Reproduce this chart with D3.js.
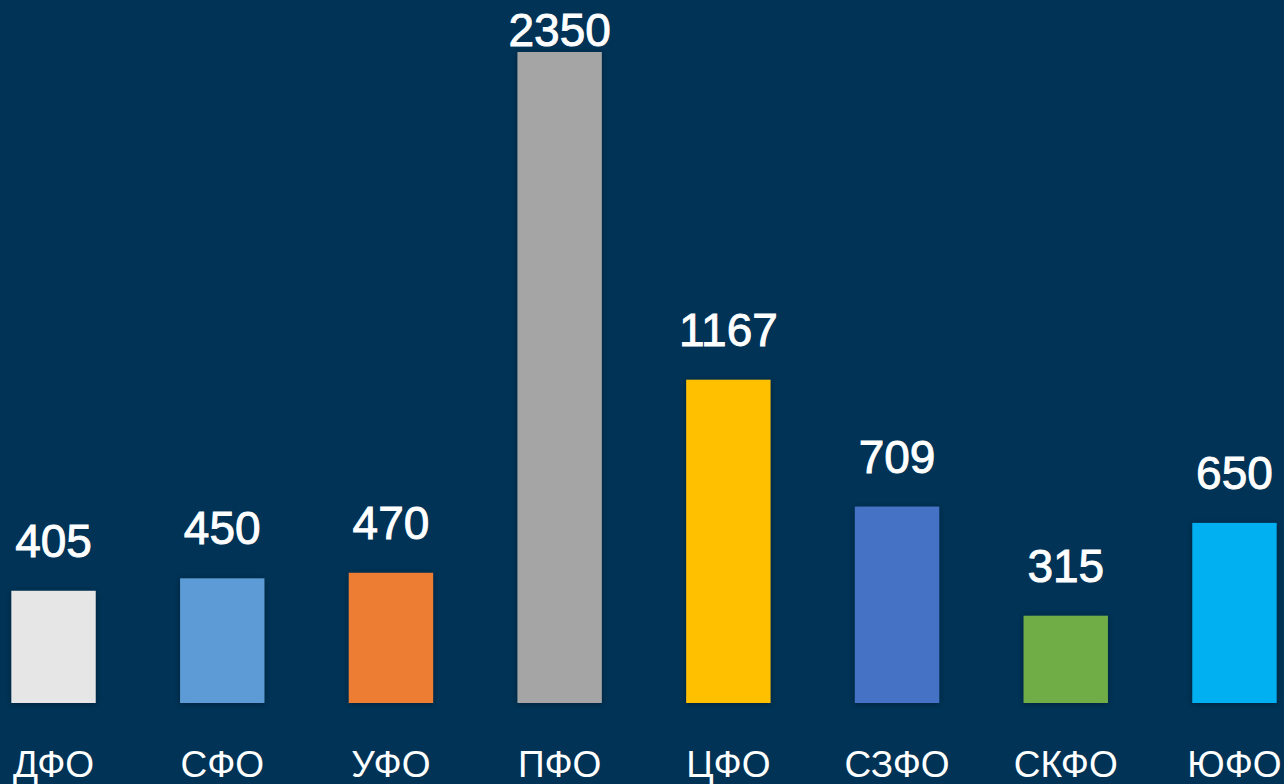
<!DOCTYPE html>
<html>
<head>
<meta charset="utf-8">
<script src="https://cdn.jsdelivr.net/npm/d3@7"></script>
<style>
  html, body { margin: 0; padding: 0; background: #003356; overflow: hidden; }
  svg { display: block; }
</style>
</head>
<body>
<svg width="1284" height="784"></svg>
<script>
// Federal districts and their values
const districts = ["ДФО", "СФО", "УФО", "ПФО", "ЦФО", "СЗФО", "СКФО", "ЮФО"];
const values = [405, 450, 470, 2350, 1167, 709, 315, 650];
const colors = ["#E7E6E6", "#5B9BD5", "#ED7D31", "#A5A5A5", "#FFC000", "#4472C4", "#70AD47", "#00B0F0"];

const data = districts.map((d, i) => ({ name: d, value: values[i], color: colors[i] }));

const svg = d3.select("svg");
const baseline = 703;

// Shadow under the bars
const defs = svg.append("defs");
const shadow = defs.append("filter")
    .attr("id", "shadow")
    .attr("x", "-20%").attr("y", "-20%")
    .attr("width", "140%").attr("height", "140%");
shadow.append("feDropShadow")
    .attr("dx", 0).attr("dy", 1)
    .attr("stdDeviation", 3)
    .attr("flood-color", "#000")
    .attr("flood-opacity", 0.35);

// Scales
const x = d3.scaleBand()
    .domain(districts)
    .range([-73, 1361])
    .paddingInner(0.5)
    .paddingOuter(0.5);

const y = d3.scaleLinear()
    .domain([0, 2350])
    .range([baseline, 52]);

// Bars
svg.append("g")
    .selectAll("rect")
    .data(data)
    .join("rect")
    .attr("x", d => x(d.name))
    .attr("y", d => y(d.value))
    .attr("width", x.bandwidth())
    .attr("height", d => baseline - y(d.value))
    .attr("fill", d => d.color)
    .attr("filter", "url(#shadow)");

// Value labels
svg.append("g")
    .selectAll("text")
    .data(data)
    .join("text")
    .attr("x", d => x(d.name) + x.bandwidth() / 2)
    .attr("y", d => Math.max(y(d.value) - 34, 46))
    .attr("text-anchor", "middle")
    .attr("fill", "#fff")
    .attr("stroke", "#fff")
    .attr("stroke-width", 0.9)
    .style("font-family", "'Liberation Sans', Arial, sans-serif")
    .style("font-size", "46px")
    .text(d => d.value);

// Category labels
svg.append("g")
    .selectAll("text")
    .data(data)
    .join("text")
    .attr("x", d => x(d.name) + x.bandwidth() / 2)
    .attr("y", 777)
    .attr("text-anchor", "middle")
    .attr("fill", "#fff")
    .style("font-family", "'Liberation Sans', Arial, sans-serif")
    .style("font-size", "37px")
    .text(d => d.name);
</script>
</body>
</html>
